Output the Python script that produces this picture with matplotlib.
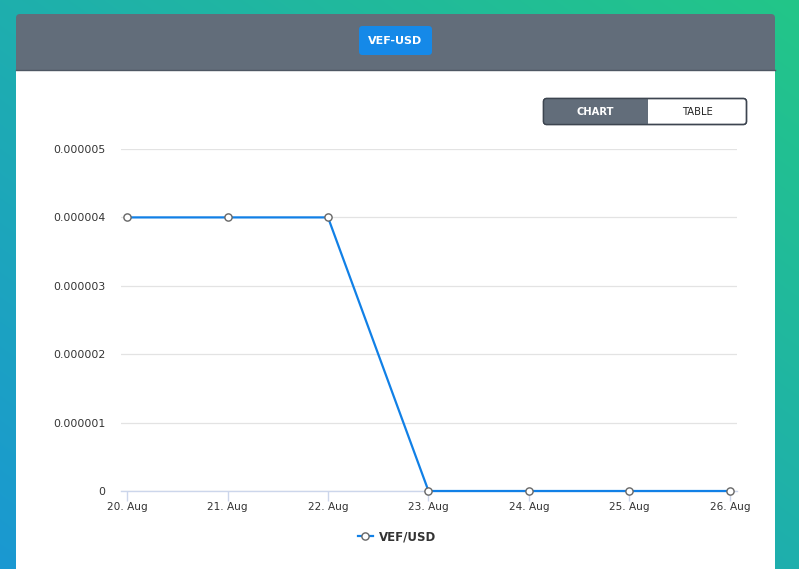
import numpy as np
import matplotlib
matplotlib.use("Agg")
import matplotlib.pyplot as plt
from matplotlib.patches import FancyBboxPatch, Rectangle
from matplotlib.lines import Line2D

# ---- data ----
dates = ["20. Aug", "21. Aug", "22. Aug", "23. Aug", "24. Aug", "25. Aug", "26. Aug"]
rates = [0.000004, 0.000004, 0.000004, 0.0, 0.0, 0.0, 0.0]
y_ticks = [0, 0.000001, 0.000002, 0.000003, 0.000004, 0.000005]
y_tick_labels = ["0", "0.000001", "0.000002", "0.000003", "0.000004", "0.000005"]
series_name = "VEF/USD"
pair_title = "VEF-USD"

W, H = 799, 569
fig = plt.figure(figsize=(W / 100, H / 100), dpi=100)
plt.rcParams['font.family'] = ['DejaVu Sans']

# ---- background gradient + card ----
bg = fig.add_axes([0, 0, 1, 1])
bg.set_xlim(0, W)
bg.set_ylim(H, 0)
bg.axis("off")
xx, yy = np.meshgrid(np.linspace(0, 1, W), np.linspace(0, 1, H))
t = 0.5 * xx + 0.5 * (1 - yy)
c0 = np.array([0x1a, 0x98, 0xd2]) / 255
c1 = np.array([0x23, 0xc6, 0x88]) / 255
img = c0[None, None, :] * (1 - t[..., None]) + c1[None, None, :] * t[..., None]
bg.imshow(img, extent=(0, W, H, 0), aspect="auto", zorder=0)

# card header (gray, rounded top)
bg.add_patch(FancyBboxPatch((16, 14), 759, 120, boxstyle="round,pad=0,rounding_size=4",
                            fc="#626d7a", ec="none", zorder=1))
# card body
bg.add_patch(Rectangle((16, 69.5), 759, 520, fc="white", ec="none", zorder=2))
bg.plot([16, 775], [69.5, 69.5], color="#4e5763", lw=1.0, zorder=3)

# header button
bg.add_patch(FancyBboxPatch((359, 26), 73, 29, boxstyle="round,pad=0,rounding_size=3.5",
                            fc="#1589e8", ec="none", zorder=3))
bg.text(395.5, 41, pair_title, color="white", fontsize=8, fontweight="bold",
        ha="center", va="center", zorder=4)

# chart / table toggle
bg.add_patch(FancyBboxPatch((543.5, 98.5), 203, 26, boxstyle="round,pad=0,rounding_size=3",
                            fc="white", ec="#3d4550", lw=1.0, zorder=3))
bg.add_patch(FancyBboxPatch((543.5, 98.5), 104, 26, boxstyle="round,pad=0,rounding_size=3",
                            fc="#626d7a", ec="none", zorder=4))
bg.add_patch(Rectangle((630, 98.5), 17.5, 26, fc="#626d7a", ec="none", zorder=4))
bg.add_patch(FancyBboxPatch((543.5, 98.5), 203, 26, boxstyle="round,pad=0,rounding_size=3",
                            fc="none", ec="#3d4550", lw=1.0, zorder=5))
bg.text(595.5, 112, "CHART", color="white", fontsize=7.2, fontweight="bold",
        ha="center", va="center", zorder=6)
bg.text(697, 112, "TABLE", color="#222222", fontsize=7.2,
        ha="center", va="center", zorder=6)

# ---- chart ----
left, right, top, bottom = 121, 737, 149, 491
ax = fig.add_axes([left / W, 1 - bottom / H, (right - left) / W, (bottom - top) / H])
ax.set_facecolor("none")
x = np.arange(len(dates))
ax.plot(x, rates, color="#1180e6", lw=1.6, marker="o", markersize=5.2,
        markerfacecolor="white", markeredgecolor="#666666", markeredgewidth=1.0,
        zorder=5, clip_on=False)
ax.set_xlim(-0.06, len(dates) - 1 + 0.07)
ax.set_ylim(0, 0.000005)
ax.set_yticks(y_ticks)
ax.set_yticklabels(y_tick_labels)
ax.set_xticks(x)
ax.set_xticklabels(dates)
ax.grid(axis="y", color="#e3e3e3", lw=0.9)
ax.set_axisbelow(True)
for s in ["top", "right", "left"]:
    ax.spines[s].set_visible(False)
ax.spines["bottom"].set_color("#ccd6eb")
ax.spines["bottom"].set_linewidth(1.0)
ax.tick_params(axis="y", length=0, pad=11.5, labelsize=7.8, labelcolor="#333333")
ax.tick_params(axis="x", length=7.2, width=1, color="#ccd6eb", pad=0.5,
               labelsize=7.6, labelcolor="#333333")

handle = Line2D([], [], color="#1180e6", lw=1.6, marker="o", markersize=5.2,
                markerfacecolor="white", markeredgecolor="#666666", markeredgewidth=1.0)
fig.legend([handle], [series_name], loc="center", bbox_to_anchor=(397 / W, 1 - 537 / H),
           frameon=False, prop={"weight": "bold", "size": 8.5}, handlelength=1.3,
           handletextpad=0.5, labelcolor="#333333")

fig.savefig("out.png", dpi=100)
